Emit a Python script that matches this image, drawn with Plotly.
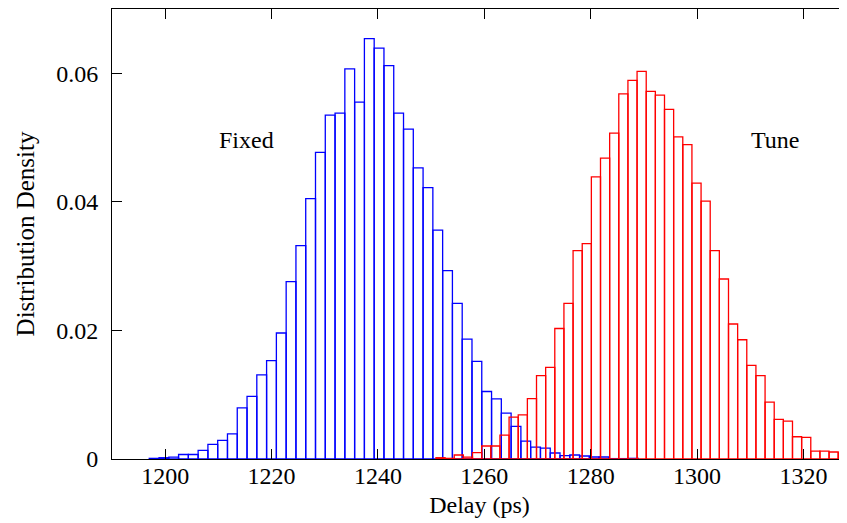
import plotly.graph_objects as go

# Fixed: histogram densities (bin start, bin width in ps)
fixed_bin_start = 1197.0
fixed_bin_width = 1.839
fixed_density = [
    0.0001, 0.0002, 0.0003, 0.0007, 0.0007, 0.00134, 0.00227, 0.0029, 0.0039, 0.00796,
    0.00975, 0.0131, 0.0153, 0.0196, 0.0276, 0.0332, 0.0405, 0.0477, 0.0535, 0.0538,
    0.0607, 0.0555, 0.0654, 0.0639, 0.0612, 0.0538, 0.0513, 0.0453, 0.0422, 0.0356,
    0.0293, 0.0242, 0.01865, 0.0152, 0.0105, 0.00935, 0.00713, 0.00507, 0.00279, 0.00186,
    0.0017, 0.00093, 0.00052, 0.00062, 0.00047, 0.00031, 0.00031, 0.00006, 0.00006, 0.0001,
]

# Tune: histogram densities
tune_bin_start = 1250.91
tune_bin_width = 1.719
tune_density = [
    0.0002, 0.0001, 0.00062, 0.0003, 0.00098, 0.00202, 0.00202, 0.00372, 0.00651, 0.00687,
    0.0094, 0.01297, 0.01426, 0.0203, 0.0242, 0.0324, 0.0335, 0.0439, 0.0468, 0.0507,
    0.0568, 0.0589, 0.0603, 0.0572, 0.0566, 0.0544, 0.0501, 0.0489, 0.0429, 0.0401,
    0.0324, 0.0280, 0.0210, 0.01855, 0.01457, 0.01297, 0.00884, 0.00615, 0.00589, 0.00346,
    0.00336, 0.00124, 0.00124, 0.00109, 0.00093,
]

x_ticks = [1200, 1220, 1240, 1260, 1280, 1300, 1320]
y_ticks = [0, 0.02, 0.04, 0.06]
y_tick_labels = ["0", "0.02", "0.04", "0.06"]

labels = ["Fixed", "Tune"]
label_x = [1215.2, 1314.7]
label_y = [0.0497, 0.0497]


def centers(start, width, n):
    return [start + width * (i + 0.5) for i in range(n)]


FONT = "Liberation Serif, Times New Roman, serif"

fig = go.Figure()
fig.add_trace(go.Bar(
    x=centers(fixed_bin_start, fixed_bin_width, len(fixed_density)),
    y=fixed_density,
    width=fixed_bin_width,
    marker=dict(color="rgba(0,0,0,0)", line=dict(color="#0000ff", width=1.3)),
    name="Fixed",
))
fig.add_trace(go.Bar(
    x=centers(tune_bin_start, tune_bin_width, len(tune_density)),
    y=tune_density,
    width=tune_bin_width,
    marker=dict(color="rgba(0,0,0,0)", line=dict(color="#ff0000", width=1.3)),
    name="Tune",
))

for t, x, y in zip(labels, label_x, label_y):
    fig.add_annotation(x=x, y=y, text=t, showarrow=False,
                       font=dict(family=FONT, size=24, color="black"))

# the page body has an 8px default margin; the figure is sized to fill the rest
fig.update_layout(
    width=839, height=515,
    margin=dict(l=104, r=0, t=1, b=64, autoexpand=False),
    paper_bgcolor="white", plot_bgcolor="white",
    barmode="overlay", showlegend=False,
    font=dict(family=FONT, size=24, color="black"),
)
fig.update_xaxes(
    range=[1190, 1328.2],
    tickvals=x_ticks,
    ticks="inside", ticklen=10, tickwidth=1, tickcolor="black",
    showline=True, linecolor="black", linewidth=1, mirror="ticks",
    showgrid=False, zeroline=False, automargin=False,
    title=dict(text="Delay (ps)", font=dict(family=FONT, size=24), standoff=8),
    tickfont=dict(family=FONT, size=24),
    ticklabelstandoff=-5,
)
fig.update_yaxes(
    range=[0, 0.07],
    tickvals=y_ticks, ticktext=y_tick_labels,
    ticks="inside", ticklen=10, tickwidth=1, tickcolor="black",
    showline=True, linecolor="black", linewidth=1, mirror=False,
    showgrid=False, zeroline=False, automargin=False,
    title=dict(text="Distribution Density", font=dict(family=FONT, size=25), standoff=14),
    tickfont=dict(family=FONT, size=24),
    ticklabelstandoff=8,
)

fig.write_html("out.html")
